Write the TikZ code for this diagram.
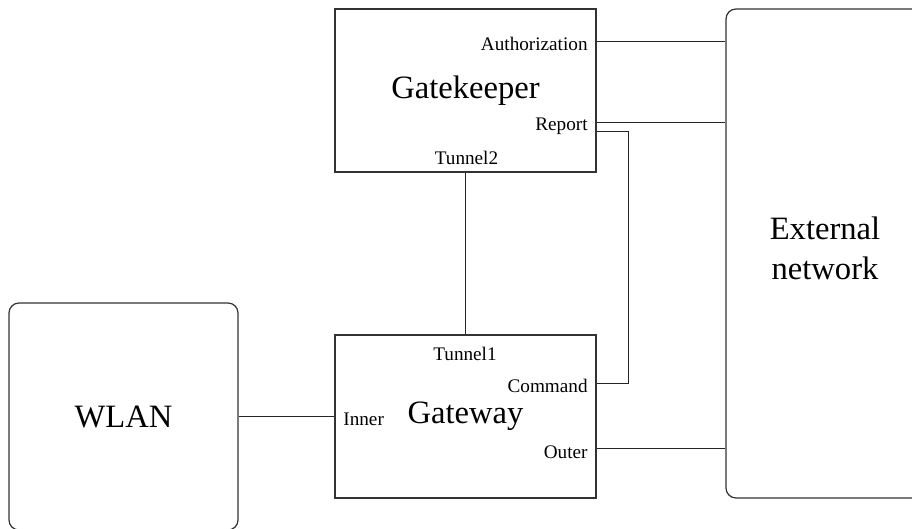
\documentclass[tikz,border=0pt]{standalone}
\usepackage{fontspec}
\setmainfont{Liberation Serif}
\usetikzlibrary{positioning}
\tikzset{
	x=0.5pt, y=-0.5pt,
	block/.style ={rectangle, draw=black!80, line width=0.6pt, inner sep=0pt, font=\fontsize{16.3}{20}\selectfont},
	cloud/.style ={block, rounded corners=5pt, align=center},
	port/.style = {inner sep=0pt, font=\fontsize{9.6}{11}\selectfont},
	link/.style = {draw=black!85, line width=0.5pt}
}
\begin{document}
\begin{tikzpicture}

    \useasboundingbox (0,0) rectangle (912,529);
    \clip (0,0) rectangle (912,529);

    \node[block, minimum width=130.5pt, minimum height=81.5pt] (gk) at (465.5,90.5) {Gatekeeper};
    \node[block, minimum width=130.5pt, minimum height=81.5pt] (gw) at (465.5,416.5) {Gateway};
    \node[cloud, minimum width=99pt, minimum height=244.5pt] (ext) at (825,253.5) {};
    \node[font=\fontsize{16.3}{20}\selectfont, align=center, inner sep=0pt] (extlbl) at (825,248) {External\\network};
    \node[cloud, minimum width=114.5pt, minimum height=113.5pt] (wlan) at (123.5,416.5) {WLAN};

    \node[port, anchor=east] (auth) at (588,44) {Authorization};
    \node[port, anchor=east] (rep) at (588,126) {Report};
    \node[port] (tun2) at (466.5,158) {Tunnel2};
    \node[port] (tun1) at (465,354) {Tunnel1};
    \node[port, anchor=east] (cmd) at (588,386) {Command};
    \node[port, anchor=west] (inner) at (343,419) {Inner};
    \node[port, anchor=east] (outer) at (588,452) {Outer};

    \draw[link] (gk.east |- 0,42) -- (ext.west |- 0,42);
    \draw[link] (gk.east |- 0,123) -- (ext.west |- 0,123);
    \draw[link] (gk.east |- 0,132) -| (628,384) -- (gw.east |- 0,384);
    \draw[link] (gk.south) -- (gw.north);
    \draw[link] (wlan.east) -- (gw.west);
    \draw[link] (gw.east |- 0,449) -- (ext.west |- 0,449);

\end{tikzpicture}
\end{document}
